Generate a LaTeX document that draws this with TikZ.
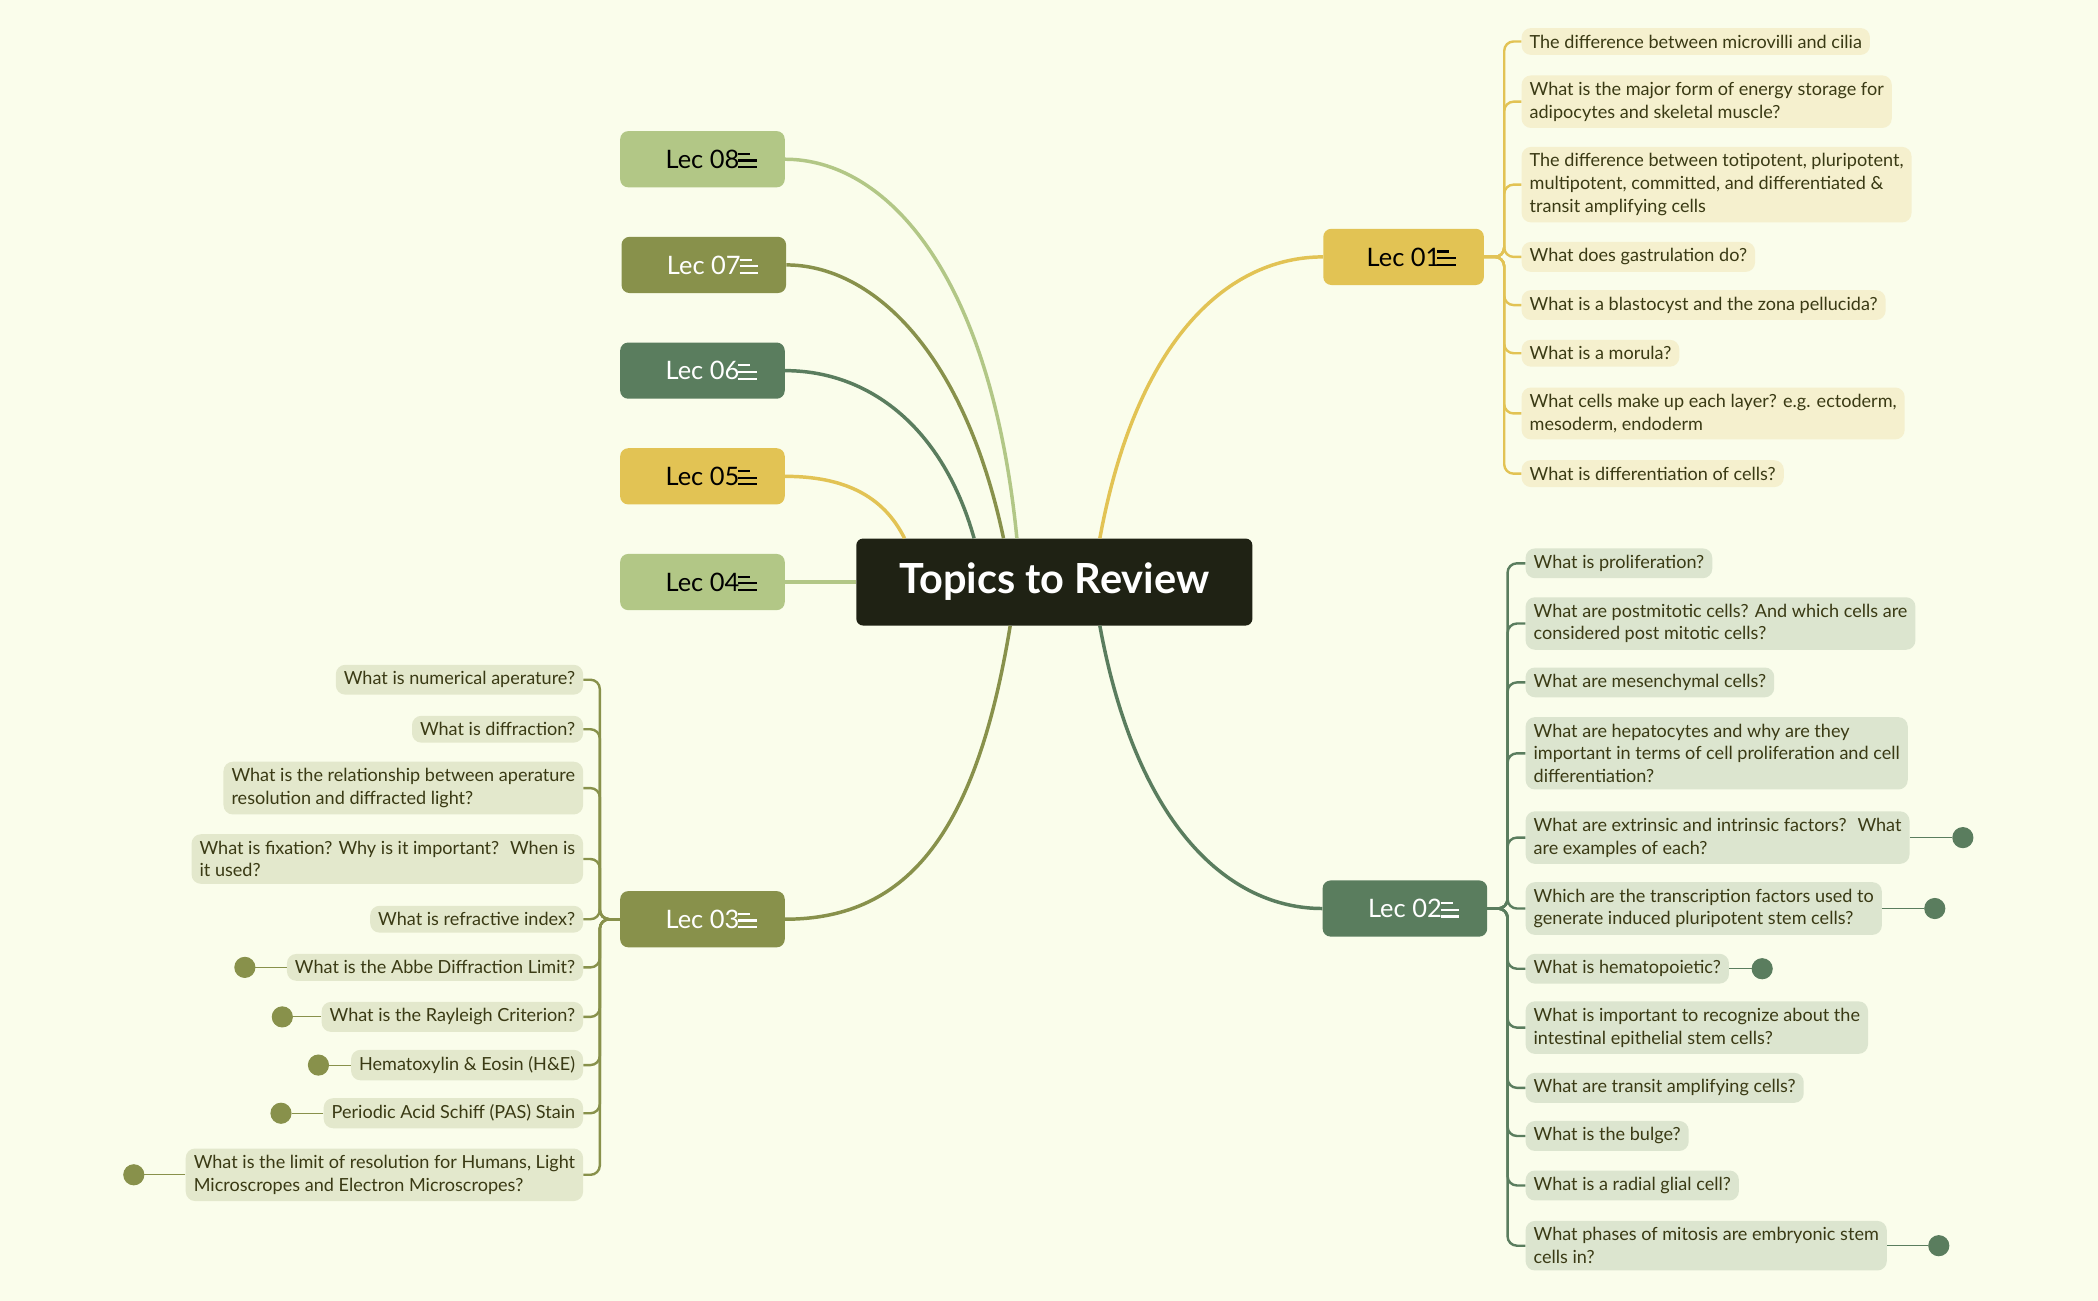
\documentclass[tikz,border=0pt]{standalone}
\usepackage{fontspec}
\setmainfont{Lato}
\usepackage{xcolor}
\usetikzlibrary{positioning}

\definecolor{bgcol}{HTML}{FAFDEB}
\definecolor{rootcol}{HTML}{1F2214}
\definecolor{goldcol}{HTML}{E2C354}
\definecolor{goldleaf}{HTML}{F5F0CE}
\definecolor{sagecol}{HTML}{5A7D5E}
\definecolor{sageleaf}{HTML}{DCE5CF}
\definecolor{olivecol}{HTML}{88914B}
\definecolor{oliveleaf}{HTML}{E3E8CC}
\definecolor{lightcol}{HTML}{B2C786}
\definecolor{leaftext}{HTML}{3A3A14}

\tikzset{
  lecbox/.style={rounded corners=6pt, minimum width=123pt, minimum height=42pt,
    font=\fontsize{19}{22}\selectfont},
  leaf/.style={rounded corners=7pt, inner xsep=6pt, inner ysep=5pt, align=left,
    text=leaftext, font=\fontsize{13.5}{17}\selectfont},
  branch/.style={line width=2.6pt},
  twig/.style={line width=1.8pt, rounded corners=7pt},
  badge/.style={circle, draw, line width=0.8pt, inner sep=0pt, minimum size=15pt,
    fill=bgcol, text=gray, font=\fontsize{9}{9}\selectfont}
}
\newcommand{\notesicon}[2]{%
  \draw[#2, line width=1.6pt] ([xshift=-35pt, yshift=-6pt]#1.east) -- ++(14,0);
  \draw[#2, line width=1.6pt] ([xshift=-35pt, yshift=-1pt]#1.east) -- ++(14,0);
  \draw[#2, line width=1.6pt] ([xshift=-35pt, yshift=4pt]#1.east) -- ++(9,0);
}

\begin{document}
\begin{tikzpicture}[x=1pt, y=-1pt]
  \fill[bgcol] (0,0) rectangle (1568,972);
  \useasboundingbox (0,0) rectangle (1568,972);

  % Root
  \node[fill=rootcol, rounded corners=5pt, minimum width=296pt, minimum height=65pt,
    text=white, font=\fontsize{31}{34}\selectfont\bfseries] (root) at (788,435) {Topics to Review};

  % Lectures
  \node[lecbox, fill=lightcol, text=black] (l08) at (525,119) {Lec 08\hspace{28pt}};
  \node[lecbox, fill=olivecol, text=white] (l07) at (526,198) {Lec 07\hspace{28pt}};
  \node[lecbox, fill=sagecol, text=white] (l06) at (525,277) {Lec 06\hspace{28pt}};
  \node[lecbox, fill=goldcol, text=black] (l05) at (525,356) {Lec 05\hspace{28pt}};
  \node[lecbox, fill=lightcol, text=black] (l04) at (525,435) {Lec 04\hspace{28pt}};
  \node[lecbox, fill=olivecol, text=white] (l03) at (525,687) {Lec 03\hspace{28pt}};
  \node[lecbox, fill=goldcol, text=black, minimum width=120pt] (l01) at (1049,192) {Lec 01\hspace{28pt}};
  \node[lecbox, fill=sagecol, text=white] (l02) at (1050,679) {Lec 02\hspace{28pt}};
  \notesicon{l08}{black}
  \notesicon{l07}{white}
  \notesicon{l06}{white}
  \notesicon{l05}{black}
  \notesicon{l04}{black}
  \notesicon{l03}{white}
  \notesicon{l01}{black}
  \notesicon{l02}{white}

  % Main branches
  \draw[branch, lightcol] ([xshift=-28pt]root.north) .. controls (740,200) and (660,119) .. (l08.east);
  \draw[branch, olivecol] ([xshift=-38pt]root.north) .. controls (720,260) and (650,198) .. (l07.east);
  \draw[branch, sagecol] ([xshift=-60pt]root.north) .. controls (705,320) and (650,277) .. (l06.east);
  \draw[branch, goldcol] ([xshift=-112pt]root.north) .. controls (660,370) and (630,356) .. (l05.east);
  \draw[branch, lightcol] (root.west) -- (l04.east);
  \draw[branch, olivecol] ([xshift=-33pt]root.south) .. controls (730,620) and (680,687) .. (l03.east);
  \draw[branch, goldcol] ([xshift=34pt]root.north) .. controls (850,250) and (920,192) .. (l01.west);
  \draw[branch, sagecol] ([xshift=34pt]root.south) .. controls (850,620) and (920,679) .. (l02.west);

  % Lec 01 topics
  \node[leaf, fill=goldleaf, anchor=west] (a1) at (1137,31) {The difference between microvilli and cilia};
  \node[leaf, fill=goldleaf, anchor=west] (a2) at (1137,76) {What is the major form of energy storage for\\adipocytes and skeletal muscle?};
  \node[leaf, fill=goldleaf, anchor=west] (a3) at (1137,138) {The difference between totipotent, pluripotent,\\multipotent, committed, and differentiated \&\\transit amplifying cells};
  \node[leaf, fill=goldleaf, anchor=west] (a4) at (1137,192) {What does gastrulation do?};
  \node[leaf, fill=goldleaf, anchor=west] (a5) at (1137,228) {What is a blastocyst and the zona pellucida?};
  \node[leaf, fill=goldleaf, anchor=west] (a6) at (1137,264) {What is a morula?};
  \node[leaf, fill=goldleaf, anchor=west] (a7) at (1137,309) {What cells make up each layer? e.g. ectoderm,\\mesoderm, endoderm};
  \node[leaf, fill=goldleaf, anchor=west] (a8) at (1137,354) {What is differentiation of cells?};
  \foreach \n in {a1,a2,a3,a4,a5,a6,a7,a8}
    \draw[twig, goldcol] (l01.east) -- ++(15,0) |- (\n.west);

  % Lec 02 topics
  \node[leaf, fill=sageleaf, anchor=west] (b1) at (1140,421) {What is proliferation?};
  \node[leaf, fill=sageleaf, anchor=west] (b2) at (1140,466) {What are postmitotic cells? And which cells are\\considered post mitotic cells?};
  \node[leaf, fill=sageleaf, anchor=west] (b3) at (1140,510) {What are mesenchymal cells?};
  \node[leaf, fill=sageleaf, anchor=west] (b4) at (1140,563) {What are hepatocytes and why are they\\important in terms of cell proliferation and cell\\differentiation?};
  \node[leaf, fill=sageleaf, anchor=west] (b5) at (1140,626) {What are extrinsic and intrinsic factors?~ What\\are examples of each?};
  \node[leaf, fill=sageleaf, anchor=west] (b6) at (1140,679) {Which are the transcription factors used to\\generate induced pluripotent stem cells?};
  \node[leaf, fill=sageleaf, anchor=west] (b7) at (1140,724) {What is hematopoietic?};
  \node[leaf, fill=sageleaf, anchor=west] (b8) at (1140,768) {What is important to recognize about the\\intestinal epithelial stem cells?};
  \node[leaf, fill=sageleaf, anchor=west] (b9) at (1140,813) {What are transit amplifying cells?};
  \node[leaf, fill=sageleaf, anchor=west] (b10) at (1140,849) {What is the bulge?};
  \node[leaf, fill=sageleaf, anchor=west] (b11) at (1140,886) {What is a radial glial cell?};
  \node[leaf, fill=sageleaf, anchor=west] (b12) at (1140,931) {What phases of mitosis are embryonic stem\\cells in?};
  \foreach \n in {b1,b2,b3,b4,b5,b6,b7,b8,b9,b10,b11,b12}
    \draw[twig, sagecol] (l02.east) -- ++(15,0) |- (\n.west);
  \node[badge, sagecol] (c5) at (1467,626) {1};
  \node[badge, sagecol] (c6) at (1446,679) {1};
  \node[badge, sagecol] (c7) at (1317,724) {1};
  \node[badge, sagecol] (c12) at (1449,931) {1};
  \foreach \a/\b in {b5/c5,b6/c6,b7/c7,b12/c12}
    \draw[sagecol, line width=0.8pt] (\a.east) -- (\b.west);

  % Lec 03 topics
  \node[leaf, fill=oliveleaf, anchor=east] (d1) at (436,508) {What is numerical aperature?};
  \node[leaf, fill=oliveleaf, anchor=east] (d2) at (436,545) {What is diffraction?};
  \node[leaf, fill=oliveleaf, anchor=east] (d3) at (436,589) {What is the relationship between aperature\\resolution and diffracted light?};
  \node[leaf, fill=oliveleaf, anchor=east] (d4) at (436,642) {What is fixation? Why is it important?~ When is\\it used?};
  \node[leaf, fill=oliveleaf, anchor=east] (d5) at (436,687) {What is refractive index?};
  \node[leaf, fill=oliveleaf, anchor=east] (d6) at (436,723) {What is the Abbe Diffraction Limit?};
  \node[leaf, fill=oliveleaf, anchor=east] (d7) at (436,760) {What is the Rayleigh Criterion?};
  \node[leaf, fill=oliveleaf, anchor=east] (d8) at (436,796) {Hematoxylin \& Eosin (H\&E)};
  \node[leaf, fill=oliveleaf, anchor=east] (d9) at (436,832) {Periodic Acid Schiff (PAS) Stain};
  \node[leaf, fill=oliveleaf, anchor=east] (d10) at (436,878) {What is the limit of resolution for Humans, Light\\Microscropes and Electron Microscropes?};
  \foreach \n in {d1,d2,d3,d4,d5,d6,d7,d8,d9,d10}
    \draw[twig, olivecol] (l03.west) -- ++(-15,0) |- (\n.east);
  \node[badge, olivecol] (e6) at (183,723) {1};
  \node[badge, olivecol] (e7) at (211,760) {2};
  \node[badge, olivecol] (e8) at (238,796) {2};
  \node[badge, olivecol] (e9) at (210,832) {1};
  \node[badge, olivecol] (e10) at (100,878) {3};
  \foreach \a/\b in {d6/e6,d7/e7,d8/e8,d9/e9,d10/e10}
    \draw[olivecol, line width=0.8pt] (\a.west) -- (\b.east);
\end{tikzpicture}
\end{document}
